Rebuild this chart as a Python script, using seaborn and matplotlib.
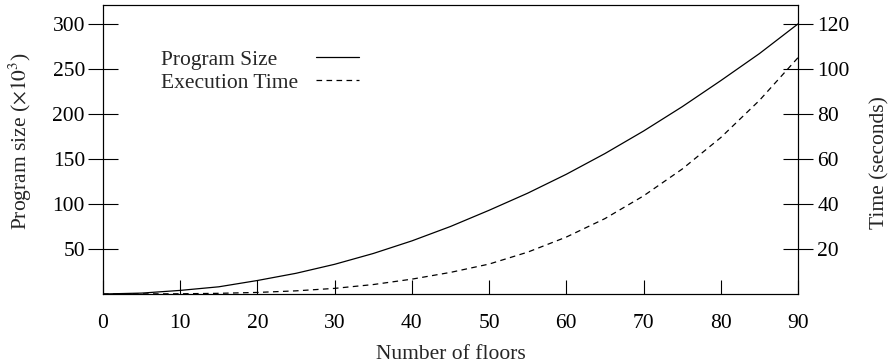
import numpy as np
import pandas as pd
import matplotlib
matplotlib.use('Agg')
import matplotlib.pyplot as plt
from matplotlib.lines import Line2D
import seaborn as sns

# Data
floors = [0, 5, 10, 15, 20, 25, 30, 35, 40, 45, 50, 55, 60, 65, 70, 75, 80, 85, 90]
program_size = [0, 1, 4, 8, 15, 23, 33, 45, 59, 75, 93, 112, 133, 156, 181, 208, 237, 267, 300]
exec_time = [0, 0.05, 0.1, 0.3, 0.7, 1.4, 2.5, 4.2, 6.6, 9.6, 13.3, 18.6, 25.3, 33.5, 43.6, 55.5, 69.5, 86, 105]

x_ticks = [0, 10, 20, 30, 40, 50, 60, 70, 80, 90]
left_ticks = [50, 100, 150, 200, 250, 300]
right_ticks = [20, 40, 60, 80, 100, 120]

df = pd.DataFrame({'floors': floors, 'size': program_size, 'time': exec_time})

FS = 15.5

sns.set_theme(style='ticks')
plt.rcParams['font.family'] = ['Liberation Serif', 'DejaVu Serif']
plt.rcParams['mathtext.fontset'] = 'stix'
plt.rcParams['font.size'] = FS
plt.rcParams['axes.linewidth'] = 0.8
plt.rcParams['axes.edgecolor'] = 'black'

fig = plt.figure(figsize=(8.9, 3.64), dpi=100)
ax = fig.add_axes([103 / 890, 70 / 364, 695 / 890, 289 / 364])
ax2 = ax.twinx()

sns.lineplot(data=df, x='floors', y='size', ax=ax, color='black', linewidth=0.9,
             label='Program Size', legend=False)
sns.lineplot(data=df, x='floors', y='time', ax=ax2, color='black', linewidth=0.9,
             linestyle=(0, (4.5, 3.5)), label='Execution Time', legend=False)

ax.set_xlim(0, 90)
ax.set_ylim(0, 321)
ax2.set_ylim(0, 128.4)

ax.set_xticks(x_ticks)
ax.set_yticks(left_ticks)
ax2.set_yticks(right_ticks)

ax.tick_params(axis='x', direction='in', length=10, width=0.8, pad=14.5, labelsize=FS, colors='black')
ax.tick_params(axis='y', direction='inout', length=21, width=0.8, pad=2.5, labelsize=FS, colors='black')
ax2.tick_params(axis='y', direction='inout', length=21, width=0.8, pad=3.5, labelsize=FS, colors='black')

ax.set_xlabel('Number of floors', fontsize=FS, labelpad=8.5)
ax.set_ylabel(r'Program size ($\times 10^3$)', fontsize=FS, labelpad=13)
ax2.set_ylabel('Time (seconds)', fontsize=FS, labelpad=14.5)
# axis titles sit a little off-centre in the original
ax.yaxis.label.set_y(0.53)
ax2.yaxis.label.set_y(0.455)

for a in (ax, ax2):
    for s in a.spines.values():
        s.set_visible(True)
        s.set_color('black')
        s.set_linewidth(0.8)

# legend: labels left-aligned in one column, line samples in the next
h1, l1 = ax.get_legend_handles_labels()
h2, l2 = ax2.get_legend_handles_labels()
blank = Line2D([], [], linestyle='none')
ax2.legend([blank, blank] + h1 + h2, l1 + l2 + ['', ''], ncol=2,
           loc='upper left', bbox_to_anchor=(0.021, 0.845),
           frameon=False, fontsize=FS, handlelength=2.0, handletextpad=0.0,
           columnspacing=0.85, labelspacing=0.12, borderpad=0, borderaxespad=0)

fig.savefig('out.png', dpi=100)
